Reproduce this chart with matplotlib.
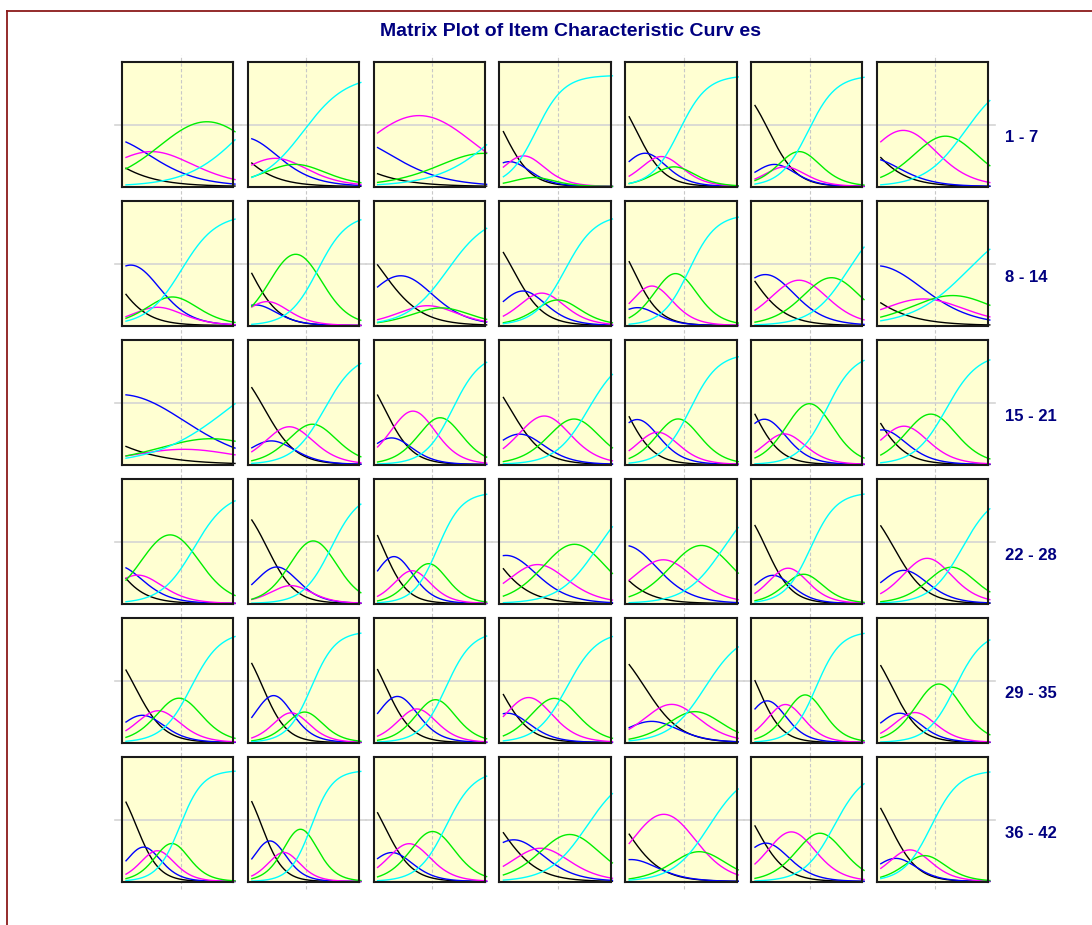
import numpy as np
import matplotlib
matplotlib.use('Agg')
import matplotlib.pyplot as plt
from matplotlib.lines import Line2D

# graded response parameters per item (slope, thresholds)
slope = [0.65, 0.85, 0.6, 1.3, 1.3, 1.3, 0.9,
         1.05, 1.25, 0.9, 1.2, 1.35, 1.0, 0.65,
         0.5, 1.15, 1.3, 1.1, 1.3, 1.3, 1.15,
         1.1, 1.3, 1.5, 0.95, 0.95, 1.4, 1.15,
         1.25, 1.5, 1.4, 1.2, 1.0, 1.5, 1.3,
         1.6, 1.7, 1.3, 0.95, 1.0, 1.2, 1.3]
thr1 = [-5.5, -4.55, -6.4, -3.02, -2.6, -2.24, -4.16,
        -3.9, -3.1, -2.8, -2.46, -2.78, -3.42, -5.1,
        -6.28, -2.3, -2.61, -2.62, -3.22, -3.15, -3.47,
        -4.12, -2.15, -2.7, -3.83, -4.44, -2.39, -2.27,
        -2.5, -2.4, -2.54, -3.23, -2.15, -2.85, -2.38,
        -2.43, -2.45, -2.63, -3.26, -3.3, -3.0, -2.5]
thr2 = [-2.6, -2.32, -3.23, -2.32, -1.65, -1.62, -3.0,
        -1.58, -2.5, -0.66, -1.39, -2.3, -1.44, -1.4,
        -0.36, -1.55, -1.86, -1.6, -1.9, -1.82, -2.35,
        -2.83, -1.1, -1.5, -1.88, -2.0, -1.65, -1.2,
        -1.7, -1.2, -1.28, -2.33, -1.38, -1.8, -1.55,
        -1.63, -1.55, -1.81, -1.6, -2.5, -1.8, -1.85]
thr3 = [-0.6, -1.1, 1.8, -1.45, -0.8, -1.07, -0.53,
        -0.95, -1.8, 0.14, -0.39, -1.2, 0.29, 0.1,
        0.74, -0.32, -0.25, 0.1, -0.98, -0.95, -1.1,
        -1.88, -0.6, -0.69, -0.34, -0.25, -0.71, 0.3,
        -0.76, -0.47, -0.39, -0.9, 0.05, -0.85, -0.7,
        -0.92, -0.92, -0.72, -0.3, 0.3, -0.2, -0.95]
thr4 = [3.5, -0.15, 3.85, -1.2, -0.25, -0.07, 1.64,
        0.05, 0.63, 0.85, 0.39, 0.3, 2.13, 1.8,
        2.63, 1.0, 1.13, 1.68, 0.36, 0.94, 0.6,
        0.74, 1.36, 0.31, 2.16, 2.19, 0.06, 1.48,
        0.59, 0.28, 0.77, 0.5, 1.19, 0.37, 1.1,
        -0.03, 0.28, 0.77, 1.6, 1.4, 1.35, -0.22]

row_labels = ['1 - 7', '8 - 14', '15 - 21', '22 - 28', '29 - 35', '36 - 42']
title = 'Matrix Plot of Item Characteristic Curv es'
colors = ['black', 'blue', 'magenta', '#00ee00', 'cyan']

W, H = 1092, 925
navy = '#000080'
font = ['Liberation Sans', 'DejaVu Sans']


def category_curves(a, b, theta):
    cum = [np.ones_like(theta)]
    for bk in b:
        cum.append(1.0 / (1.0 + np.exp(-a * (theta - bk))))
    cum.append(np.zeros_like(theta))
    return [cum[k] - cum[k + 1] for k in range(5)]


fig = plt.figure(figsize=(W / 100, H / 100), dpi=100)
fig.patch.set_facecolor('white')

# dark red frame on top and left
fig.add_artist(Line2D([7 / W, 1], [1 - 11 / H, 1 - 11 / H], transform=fig.transFigure,
                      color='#8b1a1a', lw=1.3))
fig.add_artist(Line2D([7 / W, 7 / W], [0, 1 - 11 / H], transform=fig.transFigure,
                      color='#8b1a1a', lw=1.3))

fig.text(570 / W, 1 - 31 / H, title, ha='center', va='center', fontsize=14,
         fontweight='bold', color=navy, family=font)

theta = np.linspace(-3, 3, 200)
pw, ph = 111.3, 124.5
ytop = 1.12

for i in range(42):
    r, c = divmod(i, 7)
    left = 122 + 125.8 * c
    top = 62 + 139 * r
    ax = fig.add_axes([left / W, 1 - (top + ph) / H, pw / W, ph / H])
    ax.set_facecolor('#ffffd2')
    ax.set_xlim(-3.22, 2.906)
    ax.set_ylim(0, ytop)
    ax.set_xticks([])
    ax.set_yticks([])
    for s in ax.spines.values():
        s.set_color('#1a1a1a')
        s.set_linewidth(1.5)
    ax.axvline(0, ymin=-0.06, ymax=1.06, color='#c8c8c8', lw=0.8,
               ls=(0, (3, 2)), clip_on=False, zorder=0.5)
    ax.axhline(0.55, xmin=-0.065, xmax=1.065, color='#d4d4d4', lw=1.2,
               clip_on=False, zorder=0.5)
    probs = category_curves(slope[i], [thr1[i], thr2[i], thr3[i], thr4[i]], theta)
    for p, col in zip(probs, colors):
        ax.plot(theta, p, color=col, lw=1.0, clip_on=False, zorder=2)

for r, lab in enumerate(row_labels):
    top = 62 + 139 * r
    fig.text(1005 / W, 1 - (top + 76) / H, lab, ha='left', va='center', fontsize=12,
             fontweight='bold', color=navy, family=font)

fig.savefig('out.png', dpi=100)
